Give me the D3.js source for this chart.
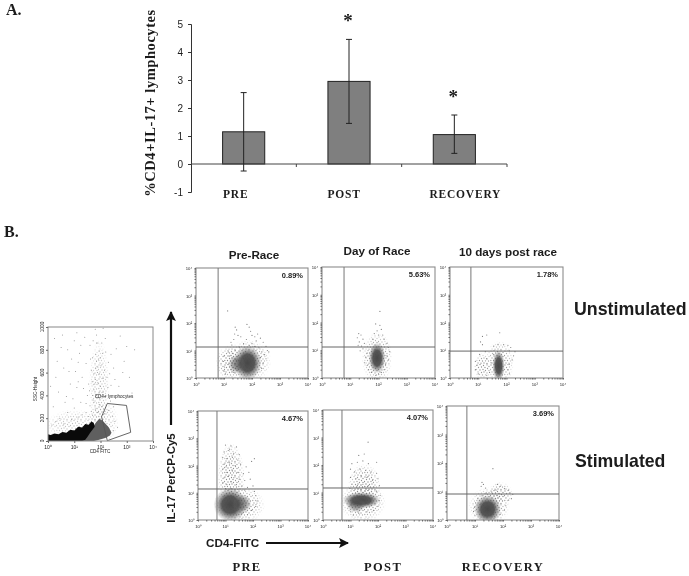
<!DOCTYPE html>
<html>
<head>
<meta charset="utf-8">
<script src="https://cdn.jsdelivr.net/npm/d3@7"></script>
<style>
  html, body { margin: 0; padding: 0; background: #fff; }
  svg { display: block; filter: blur(0.35px); }
  text { fill: #1c1c1c; }
  .serif { font-family: "Liberation Serif", serif; font-weight: bold; }
  .sans { font-family: "Liberation Sans", sans-serif; font-weight: bold; }
</style>
</head>
<body>
<svg id="chart" width="689" height="576"></svg>
<script>
// bar chart values
const categories = ['PRE', 'POST', 'RECOVERY'];
const means = [1.15, 2.95, 1.05];
const errLow = [-0.25, 1.45, 0.38];
const errHigh = [2.55, 4.45, 1.75];
const starred = [false, true, true];
const barTicks = [-1, 0, 1, 2, 3, 4, 5];

// flow panels: dots are [log10 CD4, log10 IL-17]
const preUnstimDots = [[1.13,2.44],[1.4,1.85],[1.45,1.75],[1.38,1.6],[1.5,1.55],[1.25,1.3],[1.28,1.2],[1.6,1.5],[1.82,1.95],[1.9,1.85],[1.95,1.7],[2.0,1.55],[2.1,1.5],[2.2,1.6],[2.3,1.45],[2.15,1.35],[1.8,1.4],[1.7,1.25],[2.0,1.25],[2.4,1.3],[2.5,1.15],[2.55,1.0],[2.6,.95],[2.45,.85],[2.5,.7],[2.4,.55],[2.35,.35],[1.0,.8],[.98,.6],[1.02,.4],[1.0,.25],[1.05,.15],[1.15,.95],[1.2,.8],[1.3,.9],[1.25,.3],[1.35,.2],[1.4,1.0],[1.55,1.12],[1.9,1.18],[2.1,1.15],[2.25,1.1],[1.35,1.4],[2.35,.95],[2.3,.75]];
const postUnstimDots = [[2.05,2.4],[1.3,1.6],[1.38,1.55],[1.25,1.45],[1.45,1.4],[1.32,1.3],[1.28,1.18],[1.4,1.15],[1.5,1.25],[1.45,1.05],[1.35,.98],[1.9,1.95],[2.05,1.9],[2.1,1.75],[1.95,1.7],[1.85,1.6],[2.0,1.55],[2.15,1.55],[1.8,1.4],[2.2,1.4],[2.3,1.25],[2.35,1.1],[2.4,.95],[2.3,.8],[2.35,.65],[2.25,.5],[2.2,.3],[1.6,.9],[1.55,.75],[1.5,.55],[1.6,.45],[1.65,.3],[1.75,.2],[1.9,.1],[2.0,.15],[2.1,.2]];
const recUnstimDots = [[1.76,1.63],[1.15,1.5],[1.3,1.55],[1.08,1.3],[1.15,1.2],[1.55,1.15],[1.7,1.2],[1.9,1.2],[2.05,1.18],[2.15,1.1],[2.1,.98],[1.25,.95],[2.3,.95],[2.25,.8],[2.2,.65],[2.1,.5],[2.05,.3],[.9,.6],[.95,.45],[.9,.3],[1.0,.15],[1.4,.2],[1.3,.7],[1.45,.55],[1.05,.85],[2.1,.15],[1.3,.1],[1.55,.85]];
const preStimDots = [[1.0,2.75],[1.2,2.72],[1.4,2.68],[.95,2.5],[1.1,2.55],[1.3,2.45],[.9,2.3],[1.05,2.25],[1.25,2.3],[1.45,2.2],[.95,2.05],[1.15,2.1],[1.35,2.0],[1.55,2.05],[1.95,2.15],[2.05,2.25],[1.75,1.95],[.9,1.85],[1.05,1.75],[1.25,1.8],[1.45,1.75],[1.65,1.7],[1.85,1.75],[.95,1.55],[1.1,1.6],[1.3,1.55],[1.5,1.5],[1.7,1.45],[1.9,1.5],[.9,1.35],[1.05,1.3],[1.2,1.4],[1.4,1.3],[1.6,1.25],[1.8,1.2],[2.0,1.25],[1.0,1.15],[1.2,1.15],[1.45,1.12],[1.7,1.1],[2.05,1.05],[2.1,.9],[2.15,.7],[2.1,.5],[1.95,.35],[1.8,.2],[1.6,.25],[1.15,2.6],[1.5,2.4],[1.02,1.95]];
const postStimDots = [[1.64,2.83],[1.3,2.35],[1.5,2.4],[1.05,2.05],[1.25,2.1],[1.45,2.15],[1.65,2.05],[1.95,2.1],[1.0,1.85],[1.15,1.75],[1.35,1.85],[1.55,1.8],[1.75,1.75],[1.95,1.7],[1.0,1.55],[1.2,1.5],[1.4,1.6],[1.6,1.55],[1.8,1.45],[2.0,1.5],[1.05,1.3],[1.25,1.25],[1.45,1.3],[1.65,1.25],[1.85,1.2],[2.05,1.25],[1.95,1.05],[2.08,.9],[2.05,.7],[2.0,.5],[1.85,.35],[1.6,.3],[1.3,.25],[1.0,.3],[.95,.5],[1.1,.18],[.98,1.15]];
const recStimDots = [[1.64,1.8],[1.25,1.32],[1.3,1.25],[1.22,1.18],[1.38,1.12],[1.8,1.25],[1.9,1.18],[2.05,1.1],[2.2,1.05],[2.25,.95],[2.35,.9],[2.3,.75],[2.2,.7],[2.1,.5],[2.05,.35],[1.9,.2],[.95,.3],[.98,.45],[1.02,.6],[1.1,.75],[1.75,1.05],[1.6,.98],[1.4,.95],[1.25,.85],[1.0,.15],[1.5,.1],[1.7,.12]];

// dense clouds: [centre log x, centre log y, half width, half height]
const preUnstimCores = [[1.84,.55,.5,.62],[1.45,.5,.3,.35]];
const preUnstimHalos = [[1.85,.6,.85,.8],[1.2,.55,.5,.65]];
const postUnstimCores = [[1.95,.72,.3,.55]];
const postUnstimHalos = [[1.95,.72,.55,.95]];
const recUnstimCores = [[1.72,.44,.22,.55]];
const recUnstimHalos = [[1.75,.55,.52,.8],[1.15,.42,.32,.5]];
const preStimCores = [[1.17,.56,.6,.62],[1.6,.6,.35,.35]];
const preStimHalos = [[1.5,.55,.95,.7],[1.2,1.55,.5,1.3]];
const postStimCores = [[1.4,.72,.68,.3],[1.2,.55,.35,.28]];
const postStimHalos = [[1.45,.65,.85,.75],[1.5,1.3,.6,.75]];
const recStimCores = [[1.45,.38,.48,.5]];
const recStimHalos = [[1.5,.48,.75,.68],[1.9,.92,.45,.42]];

const quadX = [0.79, 0.78, 0.74, 0.69, 0.69, 0.71];
const quadY = [1.127, 1.117, 0.97, 1.138, 1.164, 0.912];
const percents = ['0.89%', '5.63%', '1.78%', '4.67%', '4.07%', '3.69%'];
const columnTitles = ['Pre-Race', 'Day of Race', '10 days post race'];
const decades = [1, 10, 100, 1000, 10000];

// gating plot, [log10 CD4, SSC]
const ssTicks = [0, 200, 400, 600, 800, 1000];
const blackCloud = [[0,0],[0,60],[.1,52],[.25,66],[.4,60],[.55,78],[.7,72],[.85,98],[1,92],[1.15,125],[1.3,118],[1.42,150],[1.55,142],[1.65,172],[1.74,160],[1.78,125],[1.68,95],[1.6,70],[1.5,35],[1.42,12],[1.3,0]];
const greyCloud = [[1.25,0],[1.4,40],[1.55,85],[1.7,120],[1.82,160],[1.95,195],[2.08,178],[2.2,150],[2.32,118],[2.42,72],[2.36,48],[2.18,26],[1.95,10],[1.75,0]];
const gateHalos = [[1.0,130,1.15,150],[2.1,170,.6,190],[1.95,480,.4,420]];
const lymphGate = [[2.26,329],[2.99,312],[3.15,76],[2.26,3],[2.04,213]];
const ssDots = [[.3,560],[.5,820],[.6,640],[.4,430],[.2,300],[.7,390],[.9,720],[1.0,880],[1.05,610],[.85,500],[1.1,470],[1.2,770],[.75,250],[.45,200],[1.0,290],[1.25,340],[1.3,560],[1.45,680],[1.4,910],[1.6,840],[1.55,500],[1.5,400],[1.65,620],[1.7,730],[1.75,450],[1.8,980],[1.85,930],[1.9,860],[1.95,790],[1.85,700],[1.9,650],[1.95,590],[1.8,540],[1.9,510],[1.7,400],[1.6,310],[1.75,340],[1.85,400],[1.95,430],[2.0,480],[1.65,260],[1.8,280],[1.9,250],[1.95,320],[2.0,730],[2.05,860],[2.1,990],[2.2,780],[2.3,690],[2.15,620],[2.1,550],[2.25,560],[2.4,490],[2.1,430],[2.2,400],[2.35,590],[2.5,640],[2.6,810],[2.75,920],[2.9,700],[3.1,560],[3.2,420],[2.7,480],[.15,140],[.3,170],[.6,150],[.9,190],[1.15,210],[1.3,230],[1.45,250],[1.55,215],[1.7,225],[2.15,240],[2.3,270],[2.45,220],[2.55,170],[2.65,120],[2.5,90],[1.85,860],[1.82,760],[1.92,720],[1.88,600],[1.78,500],[1.72,360],[1.97,370],[2.05,300],[3.3,800],[1.1,950],[.55,930],[.1,480],[.35,700],[.8,610],[1.15,690],[1.35,460],[1.45,330],[1.58,440],[1.68,520],[1.75,590],[1.82,640],[2.02,660],[2.08,770],[2.18,900],[2.28,470],[2.38,350],[2.5,300],[.65,340],[.95,370],[1.15,520],[1.62,720],[1.72,880],[2.4,760],[2.55,540],[2.85,600],[3.0,830],[.25,900],[.75,800],[1.25,840]];

// hand placed speckle tile for the dense parts of the scatter
const speckle = [[1,1],[4,.5],[7.5,1.5],[11,.8],[13,2.5],[2.5,3.5],[5.5,3],[9,3.5],[11.5,4.5],[.5,5.5],[4,6],[7,5.5],[9.5,6.5],[13,6.5],[2,8],[5.5,8.5],[8,8],[11,9],[.8,10.5],[3.5,10.5],[6.5,11],[9.5,10.8],[12.5,11],[2,13],[5,13.2],[8,13],[11,13.4]];

const panelData = [
  { dots: preUnstimDots, cores: preUnstimCores, halos: preUnstimHalos },
  { dots: postUnstimDots, cores: postUnstimCores, halos: postUnstimHalos },
  { dots: recUnstimDots, cores: recUnstimCores, halos: recUnstimHalos },
  { dots: preStimDots, cores: preStimCores, halos: preStimHalos },
  { dots: postStimDots, cores: postStimCores, halos: postStimHalos },
  { dots: recStimDots, cores: recStimCores, halos: recStimHalos }
];

// layout
const panelFrames = [
  [196, 268, 308, 378], [322, 267, 435, 378], [450, 267, 563, 378],
  [198, 411, 308, 520], [323, 410, 433, 520], [447, 406, 559, 520]
];

const svg = d3.select('#chart');
const defs = svg.append('defs');

const stipple = defs.append('pattern').attr('id', 'stipple')
  .attr('width', 14).attr('height', 14).attr('patternUnits', 'userSpaceOnUse');
stipple.selectAll('circle').data(speckle).enter().append('circle')
  .attr('cx', d => d[0]).attr('cy', d => d[1]).attr('r', 0.65).attr('fill', '#858585');

// halo fades out to the rim
const fade = defs.append('radialGradient').attr('id', 'fade');
fade.append('stop').attr('offset', '0%').attr('stop-color', '#fff');
fade.append('stop').attr('offset', '55%').attr('stop-color', '#ccc');
fade.append('stop').attr('offset', '100%').attr('stop-color', '#000');
defs.append('mask').attr('id', 'fadeMask').attr('maskContentUnits', 'objectBoundingBox')
  .append('rect').attr('width', 1).attr('height', 1).attr('fill', 'url(#fade)');

const coreFill = defs.append('radialGradient').attr('id', 'coreFill');
coreFill.append('stop').attr('offset', '0%').attr('stop-color', '#474747').attr('stop-opacity', 1);
coreFill.append('stop').attr('offset', '50%').attr('stop-color', '#4e4e4e').attr('stop-opacity', 0.95);
coreFill.append('stop').attr('offset', '100%').attr('stop-color', '#6a6a6a').attr('stop-opacity', 0);

const marker = defs.append('marker').attr('id', 'head').attr('viewBox', '0 0 10 10')
  .attr('refX', 9).attr('refY', 5).attr('markerWidth', 4.5).attr('markerHeight', 5)
  .attr('orient', 'auto');
marker.append('path').attr('d', 'M0,0L10,5L0,10L2,5Z').attr('fill', '#111');

svg.append('text').attr('class', 'serif').attr('x', 6).attr('y', 15).attr('font-size', 16).text('A.');
svg.append('text').attr('class', 'serif').attr('x', 4).attr('y', 237).attr('font-size', 16).text('B.');

drawBars();
panelData.forEach((p, i) => drawPanel(p, i));
drawGatePlot();
drawLabels();

function drawBars () {
  const g = svg.append('g');
  const x = d3.scaleBand().domain(categories).range([191, 507]).paddingInner(0.6).paddingOuter(0.3);
  const y = d3.scaleLinear().domain([-1, 5]).range([192, 24]);

  g.selectAll('rect.bar').data(categories).enter().append('rect')
    .attr('class', 'bar')
    .attr('x', d => x(d))
    .attr('width', x.bandwidth())
    .attr('y', (d, i) => y(means[i]))
    .attr('height', (d, i) => y(0) - y(means[i]))
    .attr('fill', '#7f7f7f')
    .attr('stroke', '#222')
    .attr('stroke-width', 1);

  const yAxis = g.append('g').attr('transform', 'translate(191,0)')
    .call(d3.axisLeft(y).tickValues(barTicks).tickSize(3).tickFormat(d => String(d)));
  yAxis.selectAll('path,line').attr('stroke', '#333');
  yAxis.selectAll('text').attr('font-family', 'Liberation Sans, sans-serif').attr('font-size', 10).attr('fill', '#333').attr('dx', -2);

  const step = x.step();
  const xLine = g.append('g').attr('stroke', '#444');
  xLine.append('line').attr('x1', 191).attr('x2', 507).attr('y1', y(0)).attr('y2', y(0));
  xLine.selectAll('line.t').data(categories).enter().append('line')
    .attr('class', 't')
    .attr('x1', d => x(d) + x.bandwidth() / 2 + step / 2)
    .attr('x2', d => x(d) + x.bandwidth() / 2 + step / 2)
    .attr('y1', y(0)).attr('y2', y(0) + 3);

  categories.forEach((c, i) => {
    const cx = x(c) + x.bandwidth() / 2;
    const e = g.append('g').attr('stroke', '#222').attr('stroke-width', 1);
    e.append('line').attr('x1', cx).attr('x2', cx).attr('y1', y(errLow[i])).attr('y2', y(errHigh[i]));
    [errLow[i], errHigh[i]].forEach(v => {
      e.append('line').attr('x1', cx - 3).attr('x2', cx + 3).attr('y1', y(v)).attr('y2', y(v));
    });
    if (starred[i]) {
      g.append('text').attr('class', 'serif').attr('x', cx - 1).attr('y', y(errHigh[i]) - 12)
        .attr('text-anchor', 'middle').attr('font-size', 19).text('*');
    }
    // labels do not sit quite on the bar centres
    g.append('text').attr('class', 'serif')
      .attr('x', cx + [-8, -5, 11][i]).attr('y', 198)
      .attr('text-anchor', 'middle').attr('font-size', 11.5).attr('letter-spacing', 0.8).text(c);
  });

  g.append('text').attr('class', 'serif')
    .attr('transform', 'translate(155,103) rotate(-90)')
    .attr('text-anchor', 'middle').attr('font-size', 14.5).attr('letter-spacing', 0.55)
    .text('%CD4+IL-17+ lymphocytes');
}

function drawPanel (p, i) {
  const [x0, y0, x1, y1] = panelFrames[i];
  const g = svg.append('g');
  const xLog = d3.scaleLog().domain([1, 10000]).range([x0, x1]);
  const yLog = d3.scaleLog().domain([1, 10000]).range([y1, y0]);
  const lx = d3.scaleLinear().domain([0, 4]).range([x0, x1]);
  const ly = d3.scaleLinear().domain([0, 4]).range([y1, y0]);

  defs.append('clipPath').attr('id', 'clip' + i).append('rect')
    .attr('x', x0).attr('y', y0).attr('width', x1 - x0).attr('height', y1 - y0);
  const cloud = g.append('g').attr('clip-path', `url(#clip${i})`);

  const ell = (sel, data) => sel.data(data).enter().append('ellipse')
    .attr('cx', d => lx(d[0])).attr('cy', d => ly(d[1]))
    .attr('rx', d => lx(d[2]) - lx(0)).attr('ry', d => ly(0) - ly(d[3]));

  ell(cloud.selectAll('ellipse.halo'), p.halos).attr('class', 'halo')
    .attr('fill', 'url(#stipple)').attr('mask', 'url(#fadeMask)');
  ell(cloud.selectAll('ellipse.core'), p.cores).attr('class', 'core')
    .attr('fill', 'url(#coreFill)').attr('opacity', (d, k) => k ? 0.55 : 1);

  g.selectAll('circle.dot').data(p.dots).enter().append('circle')
    .attr('class', 'dot')
    .attr('cx', d => lx(d[0])).attr('cy', d => ly(d[1]))
    .attr('r', 0.6).attr('fill', '#808080');

  g.append('rect').attr('x', x0).attr('y', y0).attr('width', x1 - x0).attr('height', y1 - y0)
    .attr('fill', 'none').attr('stroke', '#8c8c8c').attr('stroke-width', 1.1);
  g.append('line').attr('x1', lx(quadX[i])).attr('x2', lx(quadX[i])).attr('y1', y0).attr('y2', y1)
    .attr('stroke', '#777').attr('stroke-width', 1);
  g.append('line').attr('x1', x0).attr('x2', x1).attr('y1', ly(quadY[i])).attr('y2', ly(quadY[i]))
    .attr('stroke', '#666').attr('stroke-width', 1);

  logAxis(g, d3.axisBottom(xLog), 0, y1);
  logAxis(g, d3.axisLeft(yLog), x0, 0);

  g.append('text').attr('class', 'sans').attr('x', x1 - 5).attr('y', y0 + 10)
    .attr('text-anchor', 'end').attr('font-size', 7.5).text(percents[i]);
}

function logAxis (g, axis, tx, ty) {
  const a = g.append('g').attr('transform', `translate(${tx},${ty})`)
    .call(axis.tickSize(1.5).tickFormat(''));
  a.select('.domain').remove();
  a.selectAll('line').attr('stroke', '#666');
  const isX = tx === 0;
  const s = axis.scale();
  a.selectAll('.dec').data(decades).enter().append('text').attr('class', 'dec')
    .attr('x', d => isX ? s(d) : -7)
    .attr('y', d => isX ? 8 : s(d) + 2)
    .attr('text-anchor', 'middle')
    .attr('font-family', 'Liberation Sans, sans-serif')
    .attr('font-size', 4.2).attr('fill', '#666')
    .text(d => '10' + '⁰¹²³⁴'[Math.round(Math.log10(d))]);
}

function drawGatePlot () {
  const g = svg.append('g');
  const lx = d3.scaleLinear().domain([0, 4]).range([48, 153]);
  const y = d3.scaleLinear().domain([0, 1000]).range([441, 327]);
  const xLog = d3.scaleLog().domain([1, 10000]).range([48, 153]);
  const outline = d3.line().x(d => lx(d[0])).y(d => y(d[1]));

  defs.append('clipPath').attr('id', 'clipGate').append('rect')
    .attr('x', 48).attr('y', 327).attr('width', 105).attr('height', 114);
  const cloud = g.append('g').attr('clip-path', 'url(#clipGate)');

  cloud.selectAll('ellipse').data(gateHalos).enter().append('ellipse')
    .attr('cx', d => lx(d[0])).attr('cy', d => y(d[1]))
    .attr('rx', d => lx(d[2]) - lx(0)).attr('ry', d => y(0) - y(d[3]))
    .attr('fill', 'url(#stipple)').attr('mask', 'url(#fadeMask)').attr('opacity', 0.55);
  cloud.selectAll('circle').data(ssDots).enter().append('circle')
    .attr('cx', d => lx(d[0])).attr('cy', d => y(d[1]))
    .attr('r', 0.5).attr('fill', '#8a8a8a');
  cloud.append('path').attr('d', outline(greyCloud) + 'Z').attr('fill', '#5f5f5f');
  cloud.append('path').attr('d', outline(blackCloud) + 'Z').attr('fill', '#0a0a0a');
  g.append('path').attr('d', outline(lymphGate) + 'Z')
    .attr('fill', 'none').attr('stroke', '#555').attr('stroke-width', 0.9);

  g.append('rect').attr('x', 48).attr('y', 327).attr('width', 105).attr('height', 114)
    .attr('fill', 'none').attr('stroke', '#888');

  const xa = g.append('g').attr('transform', 'translate(0,441)')
    .call(d3.axisBottom(xLog).tickValues(decades).tickSize(2).tickFormat(''));
  xa.select('.domain').remove();
  xa.selectAll('line').attr('stroke', '#666');
  g.selectAll('text.dx').data(decades).enter().append('text').attr('class', 'dx')
    .attr('x', d => xLog(d)).attr('y', 449).attr('text-anchor', 'middle')
    .attr('font-family', 'Liberation Sans, sans-serif').attr('font-size', 5).attr('fill', '#555')
    .text(d => '10' + '⁰¹²³⁴'[Math.round(Math.log10(d))]);

  const ya = g.append('g').attr('transform', 'translate(48,0)')
    .call(d3.axisLeft(y).tickValues(ssTicks).tickSize(2).tickFormat(''));
  ya.select('.domain').remove();
  ya.selectAll('line').attr('stroke', '#666');
  g.selectAll('text.dy').data(ssTicks).enter().append('text').attr('class', 'dy')
    .attr('transform', d => `translate(44,${y(d)}) rotate(-90)`).attr('text-anchor', 'middle')
    .attr('font-family', 'Liberation Sans, sans-serif').attr('font-size', 4.8).attr('fill', '#555')
    .text(d => d);

  const small = [['SSC-Height', 37, 389, -90], ['CD4 FITC', 100, 453, 0], ['CD4+ lymphocytes', 114, 398, 0]];
  small.forEach(s => {
    g.append('text').attr('transform', `translate(${s[1]},${s[2]}) rotate(${s[3]})`)
      .attr('text-anchor', 'middle').attr('font-family', 'Liberation Sans, sans-serif')
      .attr('font-size', 4.6).attr('fill', '#444').text(s[0]);
  });
}

function drawLabels () {
  const titles = [[254, 259], [377, 255], [508, 256]];
  columnTitles.forEach((t, i) => {
    svg.append('text').attr('class', 'sans').attr('x', titles[i][0]).attr('y', titles[i][1])
      .attr('text-anchor', 'middle').attr('font-size', 11.7).text(t);
  });
  [['PRE', 247], ['POST', 383], ['RECOVERY', 503]].forEach(d => {
    svg.append('text').attr('class', 'serif').attr('x', d[1]).attr('y', 571)
      .attr('text-anchor', 'middle').attr('font-size', 12.5).attr('letter-spacing', 1.4).text(d[0]);
  });
  svg.append('text').attr('class', 'sans').attr('x', 574).attr('y', 315).attr('font-size', 17.8).text('Unstimulated');
  svg.append('text').attr('class', 'sans').attr('x', 575).attr('y', 467).attr('font-size', 17.7).text('Stimulated');

  svg.append('text').attr('class', 'sans').attr('transform', 'translate(175,478) rotate(-90)')
    .attr('text-anchor', 'middle').attr('font-size', 11.5).text('IL-17 PerCP-Cy5');
  svg.append('text').attr('class', 'sans').attr('x', 206).attr('y', 547).attr('font-size', 11.7).text('CD4-FITC');

  svg.append('line').attr('x1', 171).attr('x2', 171).attr('y1', 425).attr('y2', 312)
    .attr('stroke', '#111').attr('stroke-width', 2.2).attr('marker-end', 'url(#head)');
  svg.append('line').attr('x1', 266).attr('x2', 348).attr('y1', 543).attr('y2', 543)
    .attr('stroke', '#111').attr('stroke-width', 2.2).attr('marker-end', 'url(#head)');
}
</script>
</body>
</html>
